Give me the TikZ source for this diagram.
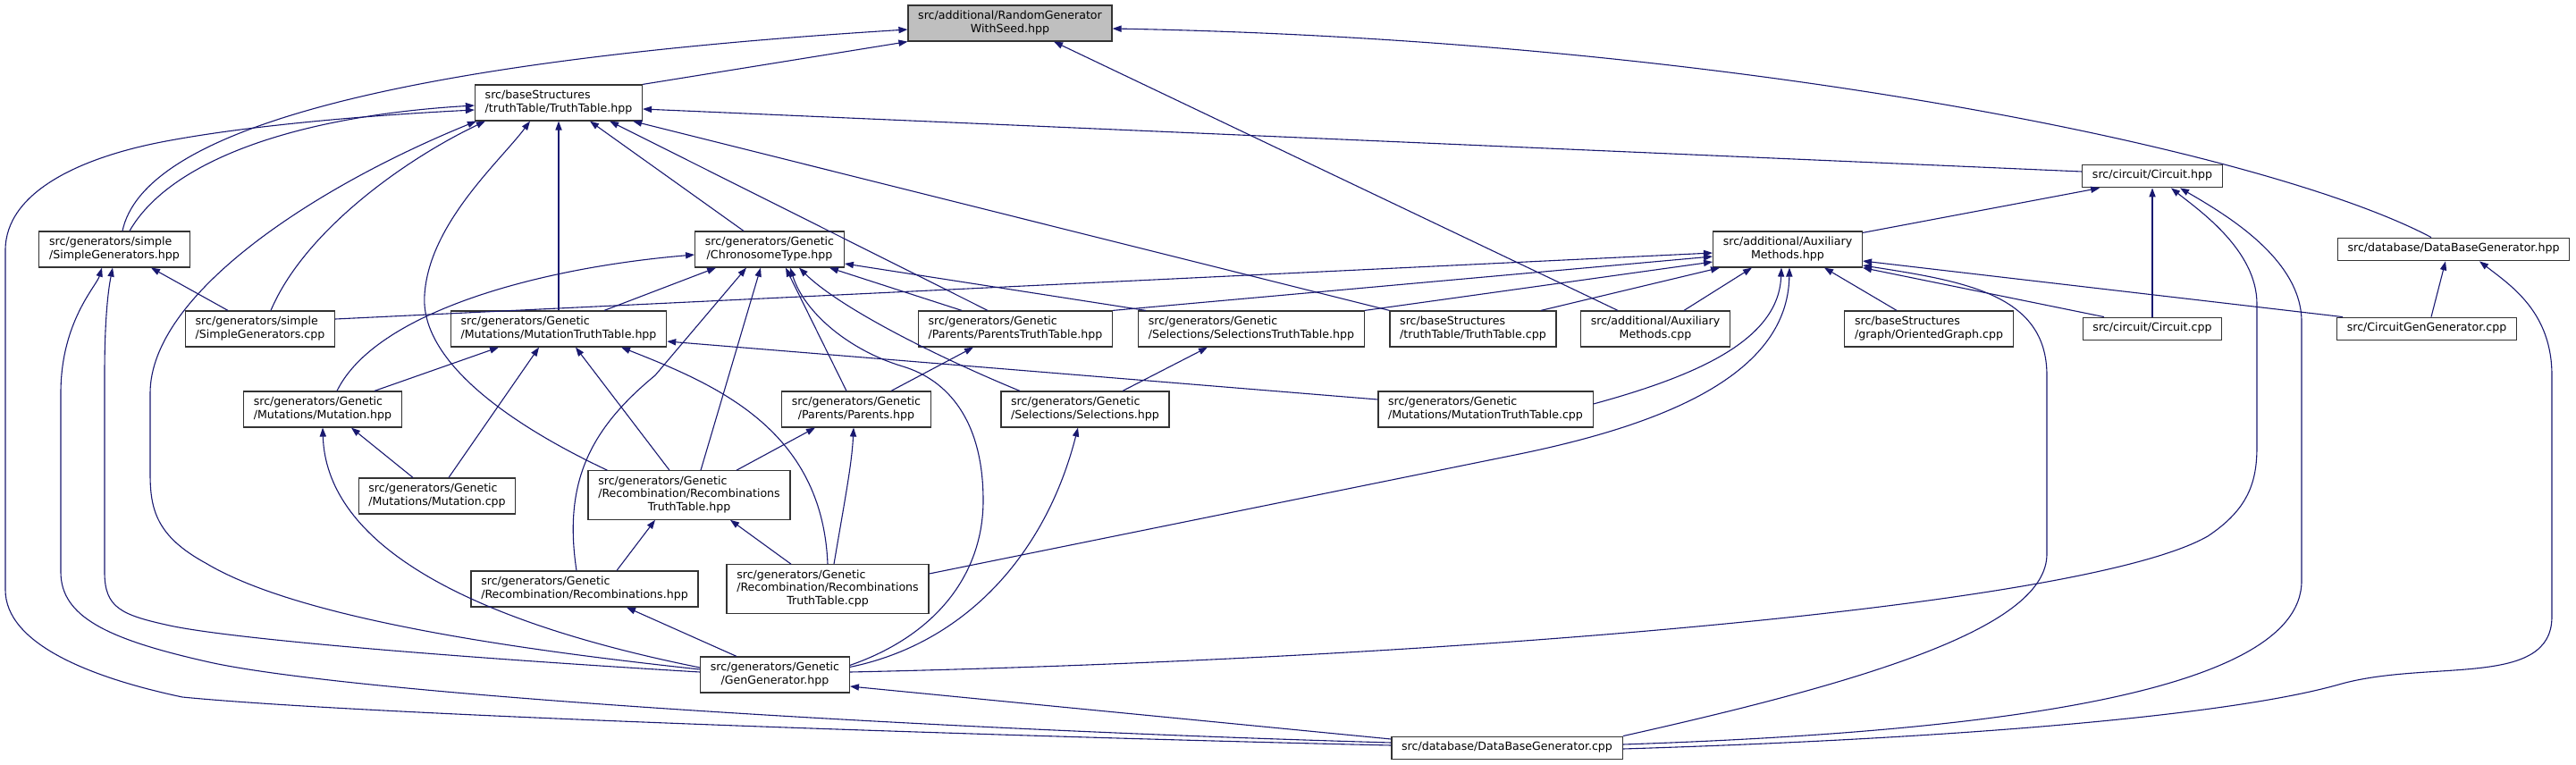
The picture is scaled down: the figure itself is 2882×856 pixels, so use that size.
\documentclass[tikz,border=0pt]{standalone}
\usepackage{fontspec}
\setmainfont{DejaVu Sans}
\usepackage{tikz}
\usetikzlibrary{arrows.meta,calc}
\definecolor{edgeblue}{HTML}{191970}
\definecolor{rootgray}{HTML}{BFBFBF}
\newcommand{\doxlbl}[2]{\begin{tabular}{@{}l@{}}#1\\\multicolumn{1}{@{}c@{}}{#2}\end{tabular}}

\begin{document}
\begin{tikzpicture}[
    x=0.5pt,y=-0.5pt,
    file/.style={draw=black!80,line width=0.6pt,fill=white,inner xsep=5.6pt,inner ysep=2.8pt,
                 font=\fontsize{6.3}{7.2}\selectfont},
    root/.style={file,fill=rootgray},
    dep/.style={-{Triangle[length=5pt,width=3.6pt]},edgeblue,line width=0.55pt}
  ]
    \useasboundingbox (0,0) rectangle (2882,856);
    % header files and sources, row by row
    \node[root] (rng) at (1130,26) {\doxlbl{src/additional/RandomGenerator}{WithSeed.hpp}};
    \node[file] (tth) at (625,115) {\doxlbl{src/baseStructures}{/truthTable/TruthTable.hpp}};
    \node[file] (circ) at (2408,197) {\strut src/circuit/Circuit.hpp};
    \node[file] (simh) at (128,279) {\doxlbl{src/generators/simple}{/SimpleGenerators.hpp}};
    \node[file] (chrom) at (861,279) {\doxlbl{src/generators/Genetic}{/ChronosomeType.hpp}};
    \node[file] (aux) at (2000,279) {\doxlbl{src/additional/Auxiliary}{Methods.hpp}};
    \node[file] (dbh) at (2745,279) {\strut src/database/DataBaseGenerator.hpp};
    \node[file] (simc) at (291,368) {\doxlbl{src/generators/simple}{/SimpleGenerators.cpp}};
    \node[file] (muttt) at (625,368) {\doxlbl{src/generators/Genetic}{/Mutations/MutationTruthTable.hpp}};
    \node[file] (partt) at (1136,368) {\doxlbl{src/generators/Genetic}{/Parents/ParentsTruthTable.hpp}};
    \node[file] (seltt) at (1400,368) {\doxlbl{src/generators/Genetic}{/Selections/SelectionsTruthTable.hpp}};
    \node[file] (ttc) at (1648,368) {\doxlbl{src/baseStructures}{/truthTable/TruthTable.cpp}};
    \node[file] (auxc) at (1852,368) {\doxlbl{src/additional/Auxiliary}{Methods.cpp}};
    \node[file] (graph) at (2158,368) {\doxlbl{src/baseStructures}{/graph/OrientedGraph.cpp}};
    \node[file] (circc) at (2408,368) {\strut src/circuit/Circuit.cpp};
    \node[file] (cgen) at (2715,368) {\strut src/CircuitGenGenerator.cpp};
    \node[file] (mut) at (361,458) {\doxlbl{src/generators/Genetic}{/Mutations/Mutation.hpp}};
    \node[file] (par) at (958,458) {\doxlbl{src/generators/Genetic}{/Parents/Parents.hpp}};
    \node[file] (sel) at (1214,458) {\doxlbl{src/generators/Genetic}{/Selections/Selections.hpp}};
    \node[file] (mutttc) at (1662,458) {\doxlbl{src/generators/Genetic}{/Mutations/MutationTruthTable.cpp}};
    \node[file] (mutc) at (489,555) {\doxlbl{src/generators/Genetic}{/Mutations/Mutation.cpp}};
    \node[file] (rectt) at (771,554) {\doxlbl{src/generators/Genetic\\/Recombination/Recombinations}{TruthTable.hpp}};
    \node[file] (rec) at (654,659) {\doxlbl{src/generators/Genetic}{/Recombination/Recombinations.hpp}};
    \node[file] (recttc) at (926,659) {\doxlbl{src/generators/Genetic\\/Recombination/Recombinations}{TruthTable.cpp}};
    \node[file] (gen) at (867,755) {\doxlbl{src/generators/Genetic}{/GenGenerator.hpp}};
    \node[file] (dbc) at (1686,837) {\strut src/database/DataBaseGenerator.cpp};
    % RandomGeneratorWithSeed.hpp
    \draw[dep] ($(simh.north)+(9,0)$) .. controls (160,150) and (420,70) .. ($(rng.west)+(0,7)$);
    \draw[dep] (tth.north east) -- (rng.south west);
    \draw[dep] ($(auxc.north)+(-42,0)$) -- ($(rng.south)+(49,0)$);
    \draw[dep] ($(dbh.north)+(-25,0)$) .. controls (2540,170) and (1950,45) .. ($(rng.east)+(0,6)$);
    % TruthTable.hpp
    \draw[dep] ($(simh.north)+(17,0)$) .. controls (190,180) and (330,130) .. ($(tth.west)+(0,3)$);
    \draw[dep] ($(dbc.west)+(0,-3)$) .. controls (1200,826) and (430,802) .. (204,780)
      .. controls (100,758) and (6,720) .. (6,660) -- (6,280)
      .. controls (6,215) and (90,175) .. (191,157) .. controls (300,137) and (450,127) .. ($(tth.west)+(0,8)$);
    \draw[dep] ($(simc.north)+(12,0)$) .. controls (340,260) and (450,180) .. ($(tth.south west)+(12,0)$);
    \draw[dep] ($(gen.west)+(0,-6)$) .. controls (560,725) and (330,690) .. (230,630)
      .. controls (175,600) and (168,570) .. (168,530) -- (168,440)
      .. controls (168,330) and (350,210) .. ($(tth.south west)+(2,0)$);
    \draw[dep] ($(rectt.north west)+(22,0)$) .. controls (560,470) and (470,400) .. (475,330)
      .. controls (480,250) and (560,180) .. ($(tth.south)+(-32,0)$);
    \draw[dep] (muttt) -- (tth);
    \draw[dep] ($(chrom.north)+(-29,0)$) -- ($(tth.south)+(35,0)$);
    \draw[dep] ($(partt.north)+(-31,0)$) -- ($(tth.south east)+(-37,0)$);
    \draw[dep] (ttc.north west) -- ($(tth.south east)+(-11,0)$);
    \draw[dep] ($(circ.west)+(0,-5)$) -- ($(tth.east)+(0,7)$);
    % SimpleGenerators.hpp
    \draw[dep] ($(simc.north)+(-36,0)$) -- ($(simh.south)+(41,0)$);
    \draw[dep] ($(gen.west)+(0,-3)$) .. controls (500,735) and (260,715) .. (190,700)
      .. controls (135,688) and (117,680) .. (117,640) -- (117,420)
      .. controls (117,350) and (122,320) .. ($(simh.south)+(-2,0)$);
    \draw[dep] ($(dbc.west)+(0,-6)$) .. controls (1000,815) and (380,775) .. (230,740)
      .. controls (120,715) and (68,690) .. (68,640) -- (68,440)
      .. controls (68,360) and (108,320) .. ($(simh.south)+(-14,0)$);
    % Circuit.hpp
    \draw[dep] ($(aux.north east)+(0,2)$) -- ($(circ.south west)+(20,0)$);
    \draw[dep] (circc) -- (circ);
    \draw[dep] ($(gen.east)+(0,-3)$) .. controls (1600,738) and (2330,680) .. (2470,600)
      .. controls (2515,570) and (2525,540) .. (2525,500) -- (2525,340)
      .. controls (2525,280) and (2460,235) .. ($(circ.south)+(21,0)$);
    \draw[dep] ($(dbc.east)+(0,-4)$) .. controls (2200,820) and (2575,780) .. (2575,650) -- (2575,360)
      .. controls (2575,290) and (2490,240) .. ($(circ.south)+(31,0)$);
    % DataBaseGenerator.hpp
    \draw[dep] ($(dbc.east)+(0,1)$) .. controls (2200,826) and (2500,800) .. (2620,765)
      .. controls (2720,738) and (2855,770) .. (2855,690) -- (2855,420)
      .. controls (2855,350) and (2810,320) .. ($(dbh.south)+(29,0)$);
    \draw[dep] ($(cgen.north)+(5,0)$) -- ($(dbh.south)+(-9,0)$);
    % AuxiliaryMethods.hpp
    \draw[dep] ($(simc.east)+(0,-11)$) -- ($(aux.west)+(0,4)$);
    \draw[dep] (partt.north east) -- ($(aux.west)+(0,8)$);
    \draw[dep] (seltt.north east) -- ($(aux.west)+(0,14)$);
    \draw[dep] ($(ttc.north)+(76,0)$) -- ($(aux.south west)+(8,0)$);
    \draw[dep] ($(auxc.north)+(32,0)$) -- ($(aux.south)+(-40,0)$);
    \draw[dep] ($(mutttc.east)+(0,-6)$) .. controls (1900,420) and (1990,380) .. ($(aux.south)+(-7,0)$);
    \draw[dep] ($(recttc.east)+(0,-17)$) -- (1700,508) .. controls (1860,475) and (2000,420) .. ($(aux.south)+(2,0)$);
    \draw[dep] ($(graph.north)+(-36,0)$) -- ($(aux.south east)+(-43,0)$);
    \draw[dep] ($(circc.north)+(-54,0)$) -- (aux.south east);
    \draw[dep] ($(cgen.north west)+(7,0)$) -- ($(aux.east)+(0,13)$);
    \draw[dep] (dbc.north east) .. controls (2100,760) and (2290,700) .. (2290,620) -- (2290,420)
      .. controls (2290,330) and (2200,315) .. ($(aux.east)+(0,18)$);
    % ChronosomeType.hpp
    \draw[dep] ($(muttt.north)+(51,0)$) -- ($(chrom.south west)+(24,0)$);
    \draw[dep] ($(mut.north)+(16,0)$) .. controls (420,350) and (600,300) .. ($(chrom.west)+(0,6)$);
    \draw[dep] ($(rec.north)+(-9,0)$) .. controls (630,540) and (660,480) .. (733,420) -- ($(chrom.south)+(-26,0)$);
    \draw[dep] ($(rectt.north)+(13,0)$) -- ($(chrom.south)+(-10,0)$);
    \draw[dep] ($(par.north)+(-11,0)$) -- ($(chrom.south)+(18,0)$);
    \draw[dep] ($(gen.north east)+(0,10)$) .. controls (1050,710) and (1100,640) .. (1100,560)
      .. controls (1100,470) and (1060,425) .. (1010,410)
      .. controls (950,392) and (900,350) .. ($(chrom.south)+(23,0)$);
    \draw[dep] ($(sel.north)+(-73,0)$) .. controls (1050,400) and (940,345) .. ($(chrom.south)+(33,0)$);
    \draw[dep] ($(partt.north)+(-60,0)$) -- ($(chrom.south east)+(-17,0)$);
    \draw[dep] ($(seltt.north)+(-118,0)$) -- ($(chrom.east)+(0,16)$);
    % MutationTruthTable.hpp
    \draw[dep] ($(mut.north)+(58,0)$) -- ($(muttt.south)+(-67,0)$);
    \draw[dep] ($(mutc.north)+(13,0)$) -- ($(muttt.south)+(-22,0)$);
    \draw[dep] ($(rectt.north)+(-22,0)$) -- ($(muttt.south)+(19,0)$);
    \draw[dep] (recttc.north) .. controls (920,480) and (800,430) .. ($(muttt.south)+(70,0)$);
    \draw[dep] ($(mutttc.west)+(0,-11)$) -- ($(muttt.east)+(0,14)$);
    % Mutation.hpp
    \draw[dep] ($(mutc.north)+(-27,0)$) -- ($(mut.south)+(32,0)$);
    \draw[dep] ($(gen.west)+(0,-8)$) .. controls (500,690) and (365,600) .. (mut.south);
    % Parents, Selections
    \draw[dep] ($(rectt.north)+(53,0)$) -- ($(par.south)+(-46,0)$);
    \draw[dep] ($(recttc.north)+(7,0)$) .. controls (945,560) and (953,520) .. ($(par.south)+(-3,0)$);
    \draw[dep] ($(par.north)+(39,0)$) -- ($(partt.south)+(-47,0)$);
    \draw[dep] ($(sel.north)+(42,0)$) -- ($(seltt.south)+(-49,0)$);
    \draw[dep] ($(gen.north east)+(0,12)$) .. controls (1080,720) and (1170,620) .. ($(sel.south)+(-8,0)$);
    % Recombinations
    \draw[dep] ($(rec.north)+(36,0)$) -- ($(rectt.south)+(-38,0)$);
    \draw[dep] ($(recttc.north)+(-41,0)$) -- ($(rectt.south)+(46,0)$);
    \draw[dep] ($(gen.north)+(-43,0)$) -- ($(rec.south)+(47,0)$);
    % GenGenerator.hpp
    \draw[dep] ($(dbc.west)+(0,-10)$) -- ($(gen.east)+(0,13)$);
\end{tikzpicture}
\end{document}
